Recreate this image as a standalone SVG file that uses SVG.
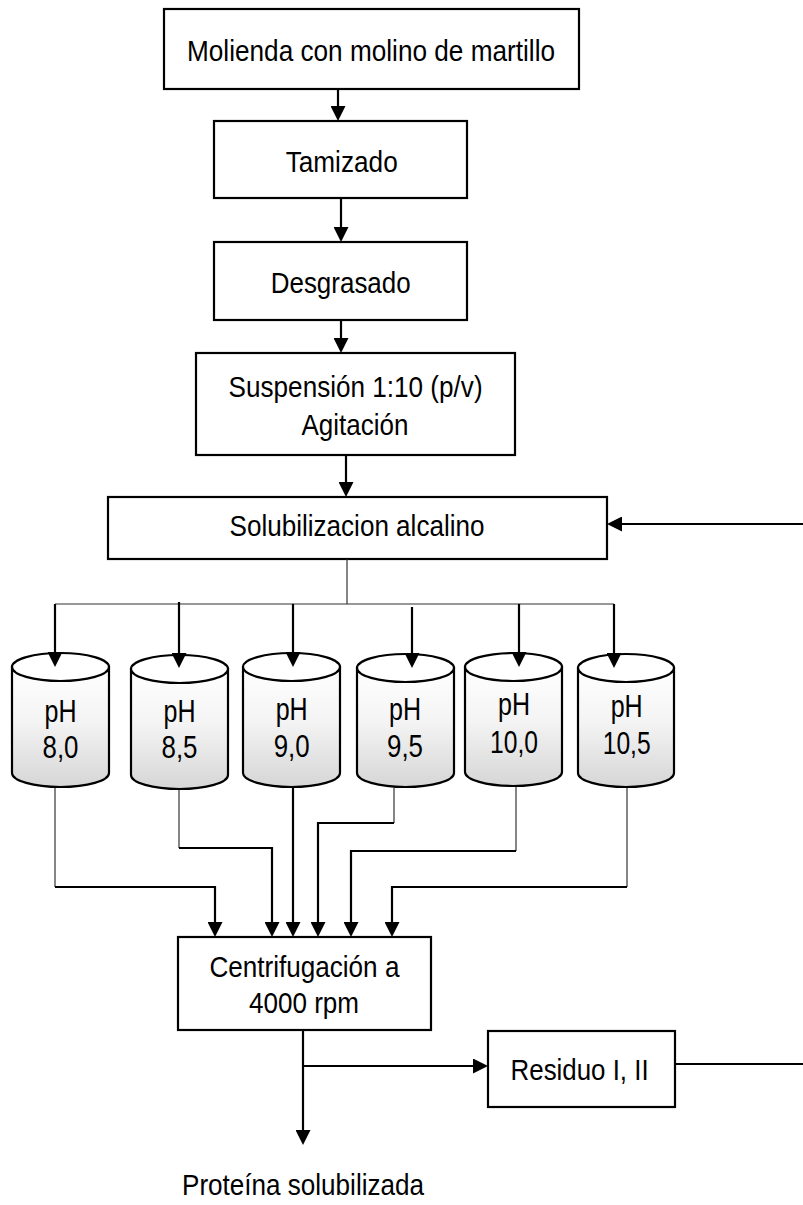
<svg xmlns="http://www.w3.org/2000/svg" width="803" height="1205" viewBox="0 0 803 1205">
<defs>
<linearGradient id="cylg" x1="0" y1="0" x2="0" y2="1">
<stop offset="0" stop-color="#ffffff"/>
<stop offset="0.45" stop-color="#f4f4f4"/>
<stop offset="1" stop-color="#d6d6d6"/>
</linearGradient>
<marker id="ah" markerUnits="userSpaceOnUse" viewBox="0 0 15 15" refX="11" refY="7.5" markerWidth="15" markerHeight="15" orient="auto">
<path d="M0,0 L15,7.5 L0,15 Z" fill="#000"/>
</marker>
</defs>
<style>
.box{fill:#fff;stroke:#000;stroke-width:2.2}
.cyl{fill:url(#cylg);stroke:#000;stroke-width:2.2}
.top{fill:#fff;stroke:#000;stroke-width:2.2}
.t{font-family:"Liberation Sans",Arial,sans-serif;font-size:30px;fill:#000;text-anchor:middle}
.tc{font-family:"Liberation Sans",Arial,sans-serif;font-size:30.5px;fill:#000;text-anchor:middle}
.thick{fill:none;stroke:#000;stroke-width:2.2}
.thin{fill:none;stroke:#333;stroke-width:1.2}
.arr{marker-end:url(#ah)}
</style>
<rect width="803" height="1205" fill="#fff"/>
<g id="n-molienda">
<rect class="box" x="164" y="9" width="415" height="80"/>
<text class="t" x="371" y="61" textLength="368" lengthAdjust="spacingAndGlyphs">Molienda con molino de martillo</text>
</g>
<g id="n-tamizado">
<rect class="box" x="214" y="121" width="253" height="77"/>
<text class="t" x="341.7" y="172" textLength="112" lengthAdjust="spacingAndGlyphs">Tamizado</text>
</g>
<g id="n-desgrasado">
<rect class="box" x="214" y="242" width="253" height="78"/>
<text class="t" x="340.7" y="293" textLength="140" lengthAdjust="spacingAndGlyphs">Desgrasado</text>
</g>
<g id="n-suspension">
<rect class="box" x="196" y="353" width="319" height="102"/>
<text class="t" x="355.6" y="397" textLength="254" lengthAdjust="spacingAndGlyphs">Suspensión 1:10 (p/v)</text>
<text class="t" x="355" y="435" textLength="107" lengthAdjust="spacingAndGlyphs">Agitación</text>
</g>
<g id="n-solubilizacion">
<rect class="box" x="108" y="497" width="499" height="62"/>
<text class="t" x="357" y="536" textLength="255" lengthAdjust="spacingAndGlyphs">Solubilizacion alcalino</text>
</g>
<g id="n-ph80">
<path class="cyl" d="M12,667 V773 A48.5,14 0 0 0 109,773 V667 Z"/>
<ellipse class="top" cx="60.5" cy="667" rx="48.5" ry="14"/>
<text class="tc" x="60.5" y="722" textLength="32" lengthAdjust="spacingAndGlyphs">pH</text>
<text class="tc" x="60.5" y="758" textLength="36" lengthAdjust="spacingAndGlyphs">8,0</text>
</g>
<g id="n-ph85">
<path class="cyl" d="M131,669 V775 A48.5,14 0 0 0 228,775 V669 Z"/>
<ellipse class="top" cx="179.5" cy="669" rx="48.5" ry="14"/>
<text class="tc" x="179.5" y="722" textLength="32" lengthAdjust="spacingAndGlyphs">pH</text>
<text class="tc" x="179.5" y="758" textLength="36" lengthAdjust="spacingAndGlyphs">8,5</text>
</g>
<g id="n-ph90">
<path class="cyl" d="M243,667 V773 A48.5,14 0 0 0 340,773 V667 Z"/>
<ellipse class="top" cx="291.5" cy="667" rx="48.5" ry="14"/>
<text class="tc" x="291.7" y="720" textLength="32" lengthAdjust="spacingAndGlyphs">pH</text>
<text class="tc" x="291.7" y="757" textLength="36" lengthAdjust="spacingAndGlyphs">9,0</text>
</g>
<g id="n-ph95">
<path class="cyl" d="M357,668 V773 A48.5,14 0 0 0 454,773 V668 Z"/>
<ellipse class="top" cx="405.5" cy="668" rx="48.5" ry="14"/>
<text class="tc" x="405" y="720" textLength="32" lengthAdjust="spacingAndGlyphs">pH</text>
<text class="tc" x="405" y="757" textLength="36" lengthAdjust="spacingAndGlyphs">9,5</text>
</g>
<g id="n-ph100">
<path class="cyl" d="M465,667 V772 A48.5,14 0 0 0 562,772 V667 Z"/>
<ellipse class="top" cx="513.5" cy="667" rx="48.5" ry="14"/>
<text class="tc" x="514" y="715" textLength="32" lengthAdjust="spacingAndGlyphs">pH</text>
<text class="tc" x="514" y="753" textLength="48" lengthAdjust="spacingAndGlyphs">10,0</text>
</g>
<g id="n-ph105">
<path class="cyl" d="M578,668 V773 A48,14 0 0 0 674,773 V668 Z"/>
<ellipse class="top" cx="626" cy="668" rx="48" ry="14"/>
<text class="tc" x="626.7" y="717" textLength="32" lengthAdjust="spacingAndGlyphs">pH</text>
<text class="tc" x="626.7" y="754" textLength="48" lengthAdjust="spacingAndGlyphs">10,5</text>
</g>
<g id="n-centrifugacion">
<rect class="box" x="178" y="937" width="253" height="93"/>
<text class="t" x="304.4" y="977" textLength="190" lengthAdjust="spacingAndGlyphs">Centrifugación a</text>
<text class="t" x="304" y="1013" textLength="110" lengthAdjust="spacingAndGlyphs">4000 rpm</text>
</g>
<g id="n-residuo">
<rect class="box" x="488" y="1031" width="187" height="76"/>
<text class="t" x="579.6" y="1080" textLength="138" lengthAdjust="spacingAndGlyphs">Residuo I, II</text>
</g>
<g id="n-proteina">
<text class="t" x="303" y="1195" textLength="242" lengthAdjust="spacingAndGlyphs">Proteína solubilizada</text>
</g>
<g id="connectors">
<path class="thick arr" d="M338,89 V117"/>
<path class="thick arr" d="M341,198 V238"/>
<path class="thick arr" d="M341,320 V349"/>
<path class="thick arr" d="M346,455 V493"/>
<path class="thick arr" d="M803,524 H611"/>
<path class="thin" d="M347,559 V604"/>
<path class="thin" d="M55,604 H614"/>
<path class="thick arr" d="M55,604 V663"/>
<path class="thick arr" d="M179,602 V664"/>
<path class="thick arr" d="M293,604 V663"/>
<path class="thick arr" d="M412,607 V664"/>
<path class="thick arr" d="M519,604 V663"/>
<path class="thick arr" d="M614,604 V664"/>
<path class="thin" d="M55,788 V887"/>
<path class="thick arr" d="M55,887 H215 V933"/>
<path class="thin" d="M179,790 V848"/>
<path class="thick arr" d="M179,848 H272 V933"/>
<path class="thick arr" d="M293,788 V933"/>
<path class="thin" d="M394,788 V823"/>
<path class="thick arr" d="M394,823 H318 V933"/>
<path class="thin" d="M516,787 V851"/>
<path class="thick arr" d="M516,851 H351 V933"/>
<path class="thin" d="M627,788 V887"/>
<path class="thick arr" d="M627,887 H392 V933"/>
<path class="thick arr" d="M303,1030 V1141"/>
<path class="thick arr" d="M303,1066 H484"/>
<path class="thick" d="M675,1064 H803"/>
</g>
</svg>
